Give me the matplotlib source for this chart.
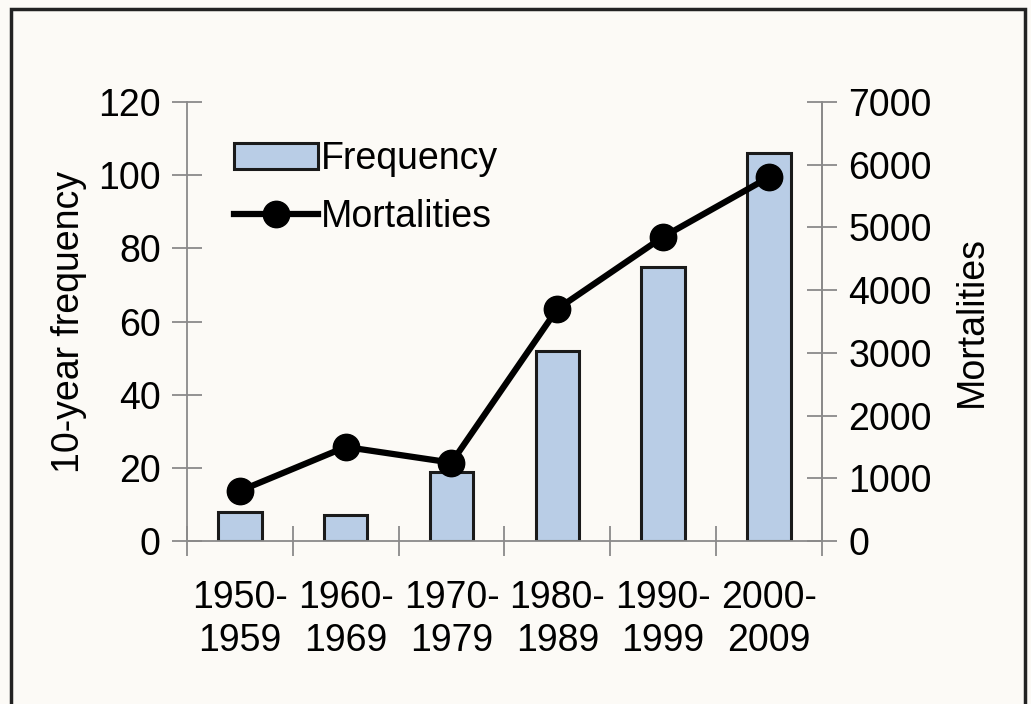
import numpy as np
import matplotlib.pyplot as plt
from matplotlib.patches import Rectangle

periods = ['1950-\n1959', '1960-\n1969', '1970-\n1979', '1980-\n1989', '1990-\n1999', '2000-\n2009']
frequency = [8, 7, 19, 52, 75, 106]
mortalities = [800, 1500, 1250, 3700, 4850, 5800]

plt.rcParams['font.family'] = ['Liberation Sans', 'DejaVu Sans']
plt.rcParams['font.size'] = 27

bg = '#fcfaf6'
grey = '#8a8a8a'

fig = plt.figure(figsize=(10.31, 7.04), dpi=100, facecolor=bg)
ax = fig.add_axes([0.1814, 0.2315, 0.797 - 0.1814, 0.855 - 0.2315])
ax.set_facecolor(bg)
ax2 = ax.twinx()

x = np.arange(len(periods))
bars = ax.bar(x, frequency, width=0.41, color='#b9cde6', edgecolor='#1a1a1a',
              linewidth=2.2, label='Frequency', zorder=2)
line, = ax2.plot(x, mortalities, color='black', lw=4.5, marker='o', ms=19,
                 label='Mortalities', zorder=3)

ax.set_xlim(-0.5, len(periods) - 0.5)
ax.set_ylim(0, 120)
ax2.set_ylim(0, 7000)
ax.set_yticks(np.arange(0, 121, 20))
ax2.set_yticks(np.arange(0, 7001, 1000))

# ticks between categories, labels at centres
ax.set_xticks(np.arange(-0.5, len(periods), 1.0))
ax.set_xticklabels([])
ax.set_xticks(x, minor=True)
ax.set_xticklabels(periods, minor=True, linespacing=1.25)
ax.tick_params(axis='x', which='major', direction='inout', length=22, color=grey, width=1.3)
ax.tick_params(axis='x', which='minor', length=0, pad=28)
ax.tick_params(axis='y', direction='inout', length=22, color=grey, width=1.3, pad=8)
ax2.tick_params(axis='y', direction='inout', length=22, color=grey, width=1.3, pad=8)

for a in (ax, ax2):
    a.spines['top'].set_visible(False)
    for s in ('left', 'right', 'bottom'):
        a.spines[s].set_color(grey)
        a.spines[s].set_linewidth(1.3)
ax2.spines['left'].set_visible(False)
ax2.spines['bottom'].set_visible(False)

ax.set_ylabel('10-year frequency', labelpad=8)
ax2.set_ylabel('Mortalities', labelpad=16)

ax.legend([bars, line], ['Frequency', 'Mortalities'], loc='upper left',
          bbox_to_anchor=(0.05, 0.945), frameon=False, handlelength=2.25,
          handleheight=0.7, handletextpad=0.08, labelspacing=0.58, borderaxespad=0)

fig.patches.append(Rectangle((0.011, -0.01), 0.983, 0.997, transform=fig.transFigure,
                             fill=False, edgecolor='#222222', lw=2.5))

fig.savefig('out.png', dpi=100, facecolor=bg)
